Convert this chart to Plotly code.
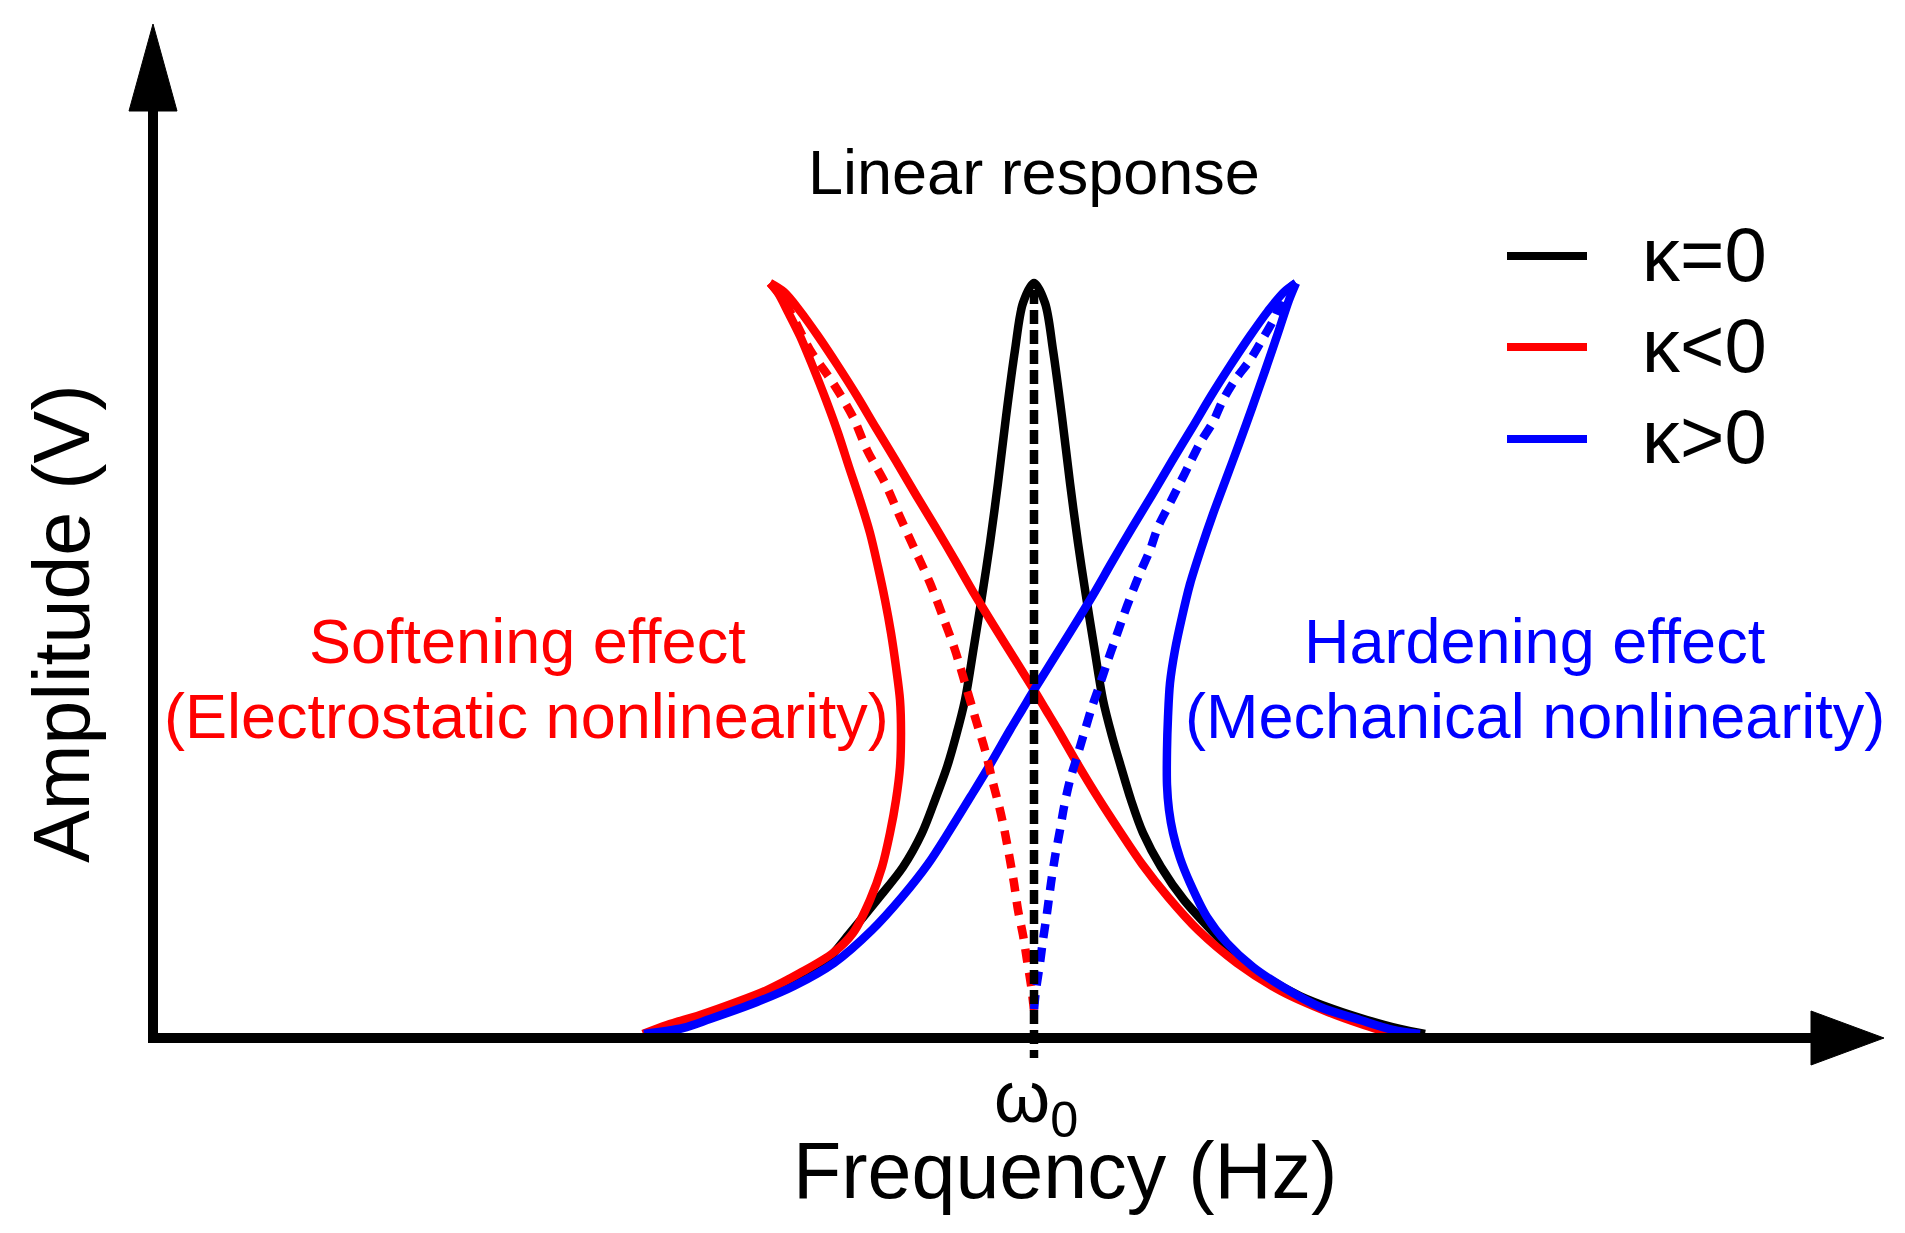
import plotly.graph_objects as go

# ---------------- data (frequency in Hz, omega0 = 1000 Hz; amplitude in mV) ----------------
# Linear response, kappa = 0
lin_f = [610, 633, 666, 699, 733, 766, 793, 816, 843, 869, 888, 901, 913, 922, 931, 940, 948, 956,
         964, 972, 981, 989, 1000, 1011, 1019, 1028, 1036, 1044, 1052, 1060, 1069, 1078, 1087, 1097,
         1109, 1127, 1150, 1180, 1206, 1233, 1266, 1299, 1333, 1366, 1391]
lin_a = [2, 8, 18, 30, 43, 58, 76, 103, 136, 169, 203, 236, 269, 300, 336, 390, 440, 493,
         553, 619, 686, 733, 753, 733, 686, 619, 553, 493, 440, 390, 336, 300, 269, 236,
         203, 169, 136, 103, 77, 58, 40, 27, 16, 7, 2]

# Softening, kappa < 0 : left stable branch (tail -> turning point -> peak)
soft_left_f = [609, 633, 666, 700, 733, 766, 799, 819, 836, 848, 856, 862, 866, 867, 866, 862, 857,
               851, 844, 836, 826, 815, 804, 792, 779, 766, 754, 744, 736]
soft_left_a = [2, 11, 21, 33, 46, 63, 83, 103, 136, 169, 203, 236, 269, 303, 336, 369, 403,
               436, 469, 503, 536, 569, 603, 636, 669, 700, 724, 743, 753]
# Softening, kappa < 0 : right stable branch (peak -> crossing -> tail)
soft_right_f = [736, 750, 766, 784, 804, 823, 842, 862, 882, 902, 922, 941, 960, 980, 1000,
                1012, 1024, 1043, 1063, 1085, 1108, 1134, 1164, 1203, 1247, 1294, 1330, 1356]
soft_right_a = [753, 744, 725, 700, 670, 640, 608, 575, 541, 508, 474, 441, 410, 378, 346,
                326, 306, 273, 240, 206, 172, 139, 106, 73, 45, 24, 11, 3]
# Softening, kappa < 0 : unstable branch (dashed)
soft_unst_f = [736, 746, 759, 776, 799, 819, 833, 851, 866, 881, 896, 909, 921, 931, 941, 951, 959,
               966, 971, 976, 980, 984, 989, 993, 997, 1000]
soft_unst_a = [753, 741, 719, 686, 653, 619, 586, 553, 519, 486, 453, 419, 386, 353, 319, 286, 253,
               226, 203, 176, 153, 126, 101, 76, 51, 26]

# Hardening, kappa > 0 : left stable branch (tail -> crossing -> peak)
hard_left_f = [610, 649, 676, 723, 760, 800, 838, 868, 894, 916, 937, 957, 976, 988, 1000,
               1020, 1040, 1059, 1078, 1098, 1118, 1138, 1158, 1177, 1196, 1216, 1234, 1250, 1262]
hard_left_a = [2, 8, 17, 34, 50, 73, 106, 139, 172, 206, 240, 273, 306, 326, 346,
               378, 410, 441, 474, 508, 541, 575, 608, 640, 670, 700, 725, 744, 753]
# Hardening, kappa > 0 : right stable branch (peak -> turning point -> tail)
hard_right_f = [1262, 1255, 1244, 1231, 1218, 1205, 1192, 1179, 1167, 1156, 1148, 1141, 1136, 1134,
                1133, 1133, 1135, 1139, 1146, 1156, 1173, 1193, 1219, 1249, 1286, 1326, 1359, 1386]
hard_right_a = [753, 736, 703, 665, 628, 592, 557, 522, 487, 452, 419, 386, 353, 319,
                286, 251, 226, 203, 178, 153, 119, 93, 69, 49, 29, 16, 6, 2]
# Hardening, kappa > 0 : unstable branch (dashed)
hard_unst_f = [1262, 1251, 1241, 1228, 1216, 1201, 1189, 1179, 1166, 1156, 1146, 1134, 1124, 1116,
               1106, 1098, 1089, 1081, 1073, 1065, 1058, 1051, 1043, 1036, 1030, 1026, 1021, 1017,
               1013, 1009, 1006, 1002, 1000]
hard_unst_a = [753, 743, 719, 696, 676, 656, 636, 614, 593, 573, 553, 529, 509, 486,
               463, 443, 419, 396, 373, 349, 329, 306, 279, 256, 229, 206, 179, 153,
               123, 96, 73, 46, 26]

# Resonance marker at omega0 (dashed vertical)
res_f = [1000, 1000]
res_a = [746, -22]

legend_labels = ["κ=0", "κ<0", "κ>0"]
legend_colors = ["#000000", "#FF0000", "#0000FF"]

# ---------------- figure ----------------
W, H = 1905, 1233
FONT = "Liberation Sans, Arial, Helvetica, sans-serif"
RED, BLUE, BLACK = "#FF0000", "#0000FF", "#000000"
LW = 8.5

fig = go.Figure()


def add_line(xs, ys, color, dash="solid"):
    fig.add_trace(go.Scatter(x=xs, y=ys, mode="lines",
                             line=dict(color=color, width=LW, dash=dash, shape="spline", smoothing=0.9),
                             showlegend=False, hoverinfo="skip"))


add_line(lin_f, lin_a, BLACK)
add_line(soft_left_f, soft_left_a, RED)
add_line(soft_right_f, soft_right_a, RED)
add_line(hard_left_f, hard_left_a, BLUE)
add_line(hard_right_f, hard_right_a, BLUE)
add_line(soft_unst_f, soft_unst_a, RED, dash="14px,10px")
add_line(hard_unst_f, hard_unst_a, BLUE, dash="14px,10px")
fig.add_trace(go.Scatter(x=res_f, y=res_a, mode="lines",
                         line=dict(color=BLACK, width=LW, dash="14px,6px"),
                         showlegend=False, hoverinfo="skip"))


# page pixel -> paper helpers (layout decoration only)
def px(x):
    return x / W


def py(y):
    return 1 - y / H


shapes = []
# axes lines
shapes.append(dict(type="line", xref="paper", yref="paper", x0=px(153), x1=px(153), y0=py(1043), y1=py(105),
                   line=dict(color=BLACK, width=10)))
shapes.append(dict(type="line", xref="paper", yref="paper", x0=px(148), x1=px(1815), y0=py(1038), y1=py(1038),
                   line=dict(color=BLACK, width=10)))
# arrow heads
shapes.append(dict(type="path", xref="paper", yref="paper",
                   path=f"M {px(129)} {py(111)} L {px(177)} {py(111)} L {px(153)} {py(24)} Z",
                   fillcolor=BLACK, line=dict(color=BLACK, width=1)))
shapes.append(dict(type="path", xref="paper", yref="paper",
                   path=f"M {px(1811)} {py(1011)} L {px(1811)} {py(1065)} L {px(1884)} {py(1038)} Z",
                   fillcolor=BLACK, line=dict(color=BLACK, width=1)))

annotations = []
# legend
leg_y = [256, 347, 439]
for lab, col, yy in zip(legend_labels, legend_colors, leg_y):
    shapes.append(dict(type="line", xref="paper", yref="paper", x0=px(1507), x1=px(1587), y0=py(yy), y1=py(yy),
                       line=dict(color=col, width=8)))
    annotations.append(dict(x=px(1640), y=py(yy - 2), xref="paper", yref="paper", text=lab, showarrow=False,
                            xanchor="left", yanchor="middle", font=dict(family=FONT, size=76, color=BLACK)))


def txt(x, y, s, size, color=BLACK, angle=0):
    annotations.append(dict(x=px(x), y=py(y), xref="paper", yref="paper", text=s, showarrow=False,
                            xanchor="center", yanchor="middle", textangle=angle,
                            font=dict(family=FONT, size=size, color=color)))


txt(1034, 172, "Linear response", 63)
txt(527, 641, "Softening effect", 63, RED)
txt(526, 716, "(Electrostatic nonlinearity)", 63, RED)
txt(1535, 641, "Hardening effect", 63, BLUE)
txt(1535, 716, "(Mechanical nonlinearity)", 63, BLUE)
txt(1036, 1102, "ω<sub>0</sub>", 72)
txt(1065, 1170, "Frequency (Hz)", 79)
txt(61, 624, "Amplitude (V)", 79, angle=-90)

fig.update_layout(
    width=W, height=H,
    margin=dict(l=0, r=0, t=0, b=0, pad=0),
    paper_bgcolor="white", plot_bgcolor="white",
    xaxis=dict(range=[-34, 1871], visible=False, fixedrange=True),
    yaxis=dict(range=[-197, 1036], visible=False, fixedrange=True),
    shapes=shapes, annotations=annotations,
    showlegend=False,
)

fig.write_html("out.html", config={"displayModeBar": False},
               post_script="document.body.style.margin='0';document.body.style.overflow='hidden';")
